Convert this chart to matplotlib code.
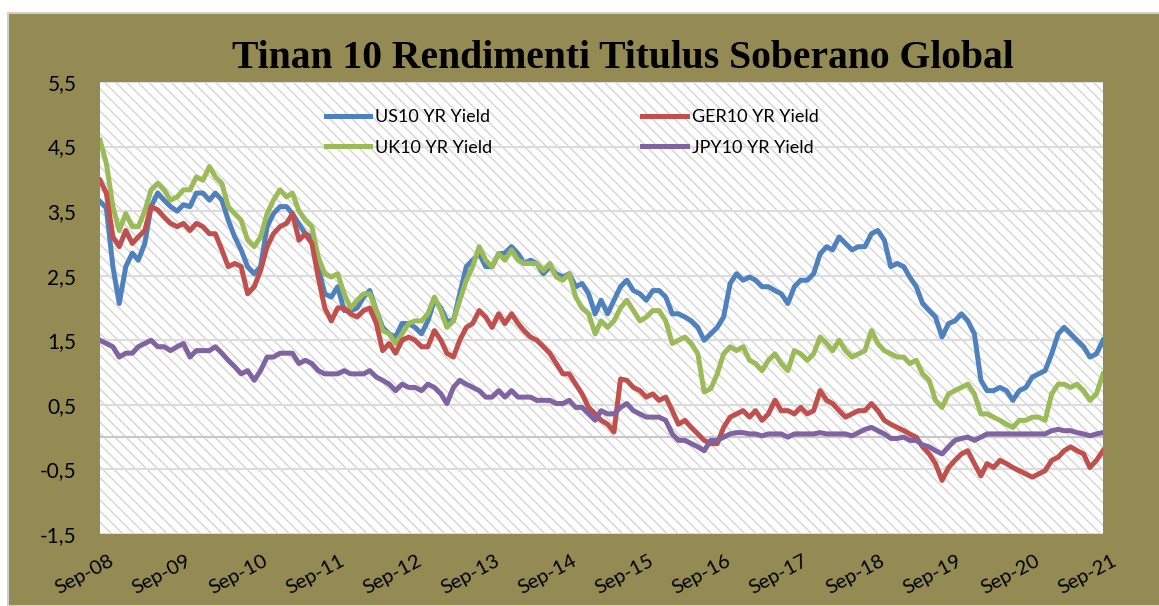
import matplotlib
matplotlib.use("Agg")
import matplotlib.pyplot as plt
import matplotlib.transforms as mtrans
from matplotlib.patches import Rectangle
import pandas as pd

# monthly readings, Sep-08 .. Sep-21
start_month = "2008-09-01"
tick_labels = ["Sep-08", "Sep-09", "Sep-10", "Sep-11", "Sep-12", "Sep-13", "Sep-14",
               "Sep-15", "Sep-16", "Sep-17", "Sep-18", "Sep-19", "Sep-20", "Sep-21"]

us10 = [3.65, 3.55, 2.64, 2.07, 2.64, 2.85, 2.74, 3.0, 3.57, 3.78, 3.67, 3.57, 3.5, 3.6, 3.57, 3.78,
        3.78, 3.67, 3.78, 3.67, 3.36, 3.1, 2.9, 2.64, 2.53, 2.64, 3.26, 3.46, 3.57, 3.57, 3.46, 3.3,
        3.15, 3.1, 2.64, 2.22, 2.17, 2.33, 1.96, 1.96, 2.0, 2.17, 2.27, 1.96, 1.7, 1.6, 1.55, 1.76,
        1.76, 1.7, 1.6, 1.8, 2.12, 2.0, 1.8, 1.8, 2.22, 2.64, 2.74, 2.84, 2.64, 2.64, 2.84,
        2.85, 2.95, 2.84, 2.69, 2.74, 2.69, 2.53, 2.64, 2.53, 2.48, 2.53, 2.33, 2.38, 2.22, 1.91, 2.12,
        1.91, 2.12, 2.33, 2.43, 2.27, 2.22, 2.12, 2.27, 2.27, 2.17, 1.91, 1.91, 1.86, 1.8, 1.7, 1.5,
        1.6, 1.7, 1.86, 2.38, 2.53, 2.43, 2.48, 2.43, 2.33, 2.33, 2.27, 2.22, 2.07, 2.33, 2.43, 2.43,
        2.53, 2.84, 2.95, 2.9, 3.1, 3.0, 2.9, 2.95, 2.95, 3.15, 3.2, 3.05, 2.64, 2.69, 2.64,
        2.48, 2.33, 2.07, 1.96, 1.86, 1.55, 1.76, 1.8, 1.91, 1.8, 1.6, 0.88, 0.72, 0.72, 0.77, 0.72,
        0.57, 0.72, 0.77, 0.93, 0.98, 1.03, 1.29, 1.6, 1.7, 1.6, 1.5, 1.4, 1.24, 1.29, 1.5]

ger10 = [3.98, 3.78, 3.1, 2.95, 3.2, 3.0, 3.1, 3.2, 3.57, 3.52, 3.41, 3.31, 3.26, 3.31, 3.2, 3.31,
         3.26, 3.15, 3.15, 2.9, 2.64, 2.69, 2.64, 2.22, 2.33, 2.58, 2.95, 3.15, 3.26, 3.31, 3.46, 3.05,
         3.15, 3.0, 2.48, 2.0, 1.8, 2.0, 2.0, 1.91, 1.86, 1.96, 2.0, 1.76, 1.34, 1.45, 1.3, 1.5,
         1.55, 1.5, 1.4, 1.4, 1.65, 1.5, 1.3, 1.24, 1.5, 1.7, 1.76, 1.96, 1.86, 1.7, 1.91,
         1.76, 1.91, 1.76, 1.65, 1.55, 1.5, 1.4, 1.3, 1.14, 0.98, 0.98, 0.82, 0.67, 0.46, 0.36, 0.26,
         0.2, 0.08, 0.9, 0.88, 0.77, 0.72, 0.62, 0.67, 0.57, 0.62, 0.41, 0.2, 0.26, 0.15, 0.05, -0.05,
         -0.1, -0.1, 0.15, 0.31, 0.36, 0.41, 0.31, 0.41, 0.26, 0.36, 0.57, 0.41, 0.41, 0.36, 0.46, 0.36,
         0.41, 0.72, 0.57, 0.52, 0.41, 0.31, 0.36, 0.41, 0.41, 0.52, 0.41, 0.26, 0.2, 0.15, 0.1,
         0.05, 0.0, -0.15, -0.26, -0.41, -0.67, -0.47, -0.36, -0.26, -0.21, -0.41, -0.6, -0.41, -0.47,
         -0.36, -0.41, -0.47, -0.52, -0.57, -0.62, -0.57, -0.52, -0.36, -0.31, -0.21, -0.15, -0.21,
         -0.26, -0.47, -0.36, -0.21]

uk10 = [4.6, 4.24, 3.57, 3.2, 3.46, 3.26, 3.26, 3.5, 3.83, 3.93, 3.83, 3.67, 3.72, 3.83, 3.83, 4.03,
        3.98, 4.19, 4.03, 3.93, 3.57, 3.46, 3.36, 3.05, 2.95, 3.1, 3.46, 3.67, 3.83, 3.72, 3.78, 3.5,
        3.36, 3.26, 2.79, 2.53, 2.48, 2.53, 2.22, 2.0, 2.12, 2.22, 2.22, 1.96, 1.65, 1.6, 1.45, 1.6,
        1.76, 1.8, 1.8, 1.91, 2.17, 1.96, 1.7, 1.8, 2.12, 2.43, 2.64, 2.95, 2.74, 2.64, 2.84,
        2.74, 2.9, 2.74, 2.69, 2.69, 2.69, 2.58, 2.69, 2.48, 2.43, 2.53, 2.17, 2.0, 1.91, 1.6, 1.8,
        1.7, 1.8, 2.0, 2.12, 1.96, 1.8, 1.86, 1.96, 1.96, 1.8, 1.45, 1.5, 1.55, 1.45, 1.29, 0.7,
        0.75, 0.98, 1.29, 1.4, 1.34, 1.4, 1.19, 1.14, 1.03, 1.19, 1.29, 1.14, 1.03, 1.34, 1.29, 1.19,
        1.29, 1.55, 1.45, 1.34, 1.5, 1.34, 1.24, 1.29, 1.34, 1.65, 1.45, 1.34, 1.29, 1.24, 1.24,
        1.14, 1.19, 0.98, 0.88, 0.57, 0.46, 0.67, 0.72, 0.77, 0.82, 0.67, 0.36, 0.36, 0.31, 0.26, 0.2,
        0.15, 0.26, 0.26, 0.31, 0.31, 0.26, 0.67, 0.82, 0.82, 0.77, 0.82, 0.72, 0.57, 0.67, 0.98]

jpy10 = [1.5, 1.45, 1.4, 1.24, 1.3, 1.3, 1.4, 1.45, 1.5, 1.4, 1.4, 1.34, 1.4, 1.45, 1.24, 1.34,
         1.34, 1.34, 1.4, 1.3, 1.19, 1.09, 0.98, 1.03, 0.88, 1.03, 1.24, 1.24, 1.3, 1.3, 1.3, 1.14,
         1.19, 1.14, 1.03, 0.98, 0.98, 0.98, 1.03, 0.98, 0.98, 0.98, 1.03, 0.93, 0.88, 0.82, 0.72, 0.82,
         0.77, 0.77, 0.72, 0.82, 0.77, 0.67, 0.52, 0.77, 0.88, 0.82, 0.77, 0.72, 0.62, 0.62, 0.72,
         0.62, 0.72, 0.62, 0.62, 0.62, 0.57, 0.57, 0.57, 0.52, 0.52, 0.57, 0.46, 0.46, 0.36, 0.26, 0.41,
         0.36, 0.36, 0.46, 0.52, 0.41, 0.36, 0.31, 0.31, 0.31, 0.26, 0.05, -0.05, -0.05, -0.1, -0.15, -0.21,
         -0.05, -0.05, 0.0, 0.05, 0.07, 0.07, 0.05, 0.05, 0.02, 0.05, 0.05, 0.05, 0.0, 0.05, 0.05, 0.05,
         0.05, 0.07, 0.05, 0.05, 0.05, 0.05, 0.02, 0.07, 0.12, 0.15, 0.1, 0.05, -0.02, -0.02, 0.0,
         -0.05, -0.05, -0.12, -0.15, -0.21, -0.26, -0.15, -0.05, -0.02, 0.0, -0.05, 0.0, 0.05, 0.05,
         0.05, 0.05, 0.05, 0.05, 0.05, 0.05, 0.05, 0.05, 0.1, 0.12, 0.1, 0.1, 0.07, 0.05, 0.02, 0.05, 0.07]

y_ticks = [-1.5, -0.5, 0.5, 1.5, 2.5, 3.5, 4.5, 5.5]

olive = "#948A54"
plt.rcParams["font.family"] = ["Lato", "DejaVu Sans"]
plt.rcParams["hatch.linewidth"] = 1.1

months = pd.date_range(start_month, periods=len(us10), freq="MS")
tick_dates = pd.date_range(start_month, periods=len(tick_labels), freq="12MS")

fig = plt.figure(figsize=(11.59, 6.06), dpi=100)
bg = Rectangle((8 / 1159, 0), 1, 1 - 13 / 606, transform=fig.transFigure,
               facecolor=olive, edgecolor="#D0D0D0", lw=1.5, zorder=-5)
fig.patches.append(bg)

ax = fig.add_axes([100 / 1159, 72 / 606, 1003 / 1159, 452 / 606])
ax.set_zorder(1)
ax.set_facecolor("white")
ax.add_patch(Rectangle((0, 0), 1, 1, transform=ax.transAxes, facecolor="white",
                       edgecolor="#D8D8D8", hatch="\\\\\\", lw=0, zorder=0))

for sp in ax.spines.values():
    sp.set_visible(False)

ax.plot(months, us10, color="#4F81BD", lw=3.6, label="US10 YR Yield", zorder=3)
ax.plot(months, uk10, color="#9BBB59", lw=3.6, label="UK10 YR Yield", zorder=3)
ax.plot(months, ger10, color="#C0504D", lw=3.6, label="GER10 YR Yield", zorder=3)
ax.plot(months, jpy10, color="#8064A2", lw=3.6, label="JPY10 YR Yield", zorder=3)

ax.set_ylim(-1.5, 5.5)
ax.set_yticks(y_ticks)
ax.set_yticklabels([f"{v:.1f}".replace(".", ",") for v in y_ticks], fontsize=15)
ax.yaxis.grid(True, color="#DCDCDC", lw=1.5, zorder=1)
ax.axhline(0, color="#C8C8C8", lw=1.5, zorder=1)
ax.set_axisbelow(True)

ax.set_xlim(tick_dates[0], tick_dates[-1])
ax.set_xticks(tick_dates)
ax.set_xticklabels(tick_labels, fontsize=14.5, rotation=28, ha="right", va="top",
                   rotation_mode="anchor")
ax.tick_params(axis="both", length=0)
ax.tick_params(axis="y", pad=17)
ax.tick_params(axis="x", pad=13)

# nudge the slanted date labels a little to the right, like the original
shift = mtrans.ScaledTranslation(6 / 72, 0, fig.dpi_scale_trans)
for lab in ax.get_xticklabels():
    lab.set_transform(lab.get_transform() + shift)

ax.legend(ncol=2, frameon=False, fontsize=13, loc="upper left",
          bbox_to_anchor=(217 / 1003, 0.96), borderpad=0, handlelength=2.45,
          columnspacing=8.3, labelspacing=0.8, handletextpad=0.28)

fig.text(0.537, 0.903, "Tinan 10 Rendimenti Titulus Soberano Global", ha="center", va="center",
         fontsize=28.5, fontweight="bold", family="Liberation Serif")

fig.savefig("out.png", dpi=100)
